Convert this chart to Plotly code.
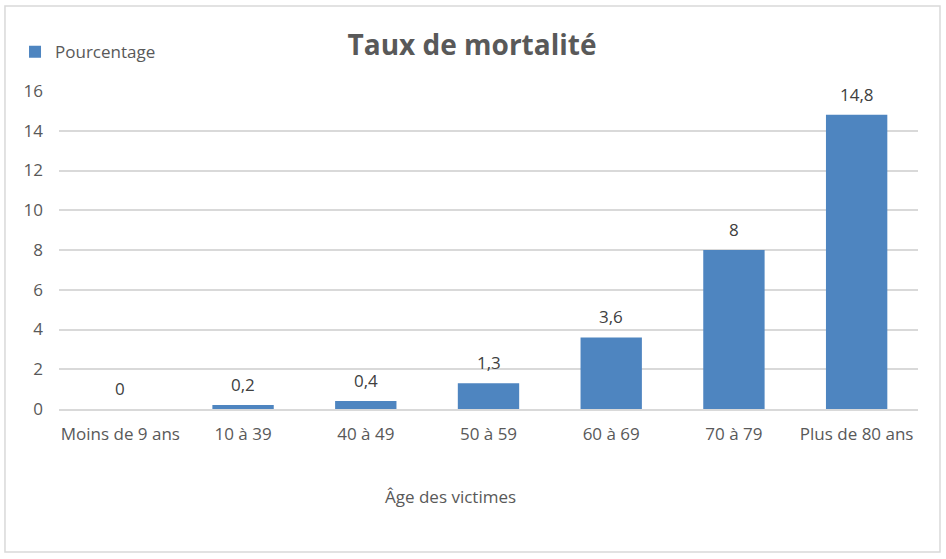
import plotly.graph_objects as go

categories = ["Moins de 9 ans", "10 à 39", "40 à 49", "50 à 59", "60 à 69", "70 à 79", "Plus de 80 ans"]
values = [0, 0.2, 0.4, 1.3, 3.6, 8, 14.8]
labels = ["0", "0,2", "0,4", "1,3", "3,6", "8", "14,8"]
y_ticks = [0, 2, 4, 6, 8, 10, 12, 14, 16]

FONT = "Open Sans"

fig = go.Figure()
fig.add_trace(go.Bar(
    x=categories, y=values, name="Pourcentage",
    marker=dict(color="#4e85c0", line=dict(width=0)),
    width=0.5,
))

for c, v, t in zip(categories, values, labels):
    fig.add_annotation(x=c, y=v, text=t, showarrow=False, yanchor="bottom",
                       yshift=7, font=dict(family=FONT, size=17, color="#404040"))

fig.add_annotation(xref="paper", yref="paper", x=0.456, y=-0.318, text="Âge des victimes",
                   showarrow=False, font=dict(family=FONT, size=17, color="#595959"))

fig.add_shape(type="rect", xref="paper", yref="paper", x0=-0.0629, x1=1.0256, y0=-0.4497, y1=1.267,
              line=dict(color="#d9d9d9", width=1.5), fillcolor="rgba(0,0,0,0)", layer="below")

fig.update_layout(
    width=946, height=559,
    margin=dict(l=59, r=28, t=91, b=150, autoexpand=False),
    paper_bgcolor="white", plot_bgcolor="white",
    title=dict(text="<b>Taux de mortalité</b>", x=472 / 946, xref="container", xanchor="center",
               y=1 - 45 / 559, yref="container", yanchor="middle",
               font=dict(family=FONT, size=28, color="#595959")),
    showlegend=True,
    legend=dict(x=-0.0512, y=1.122, xanchor="left", yanchor="middle", orientation="h",
                font=dict(family=FONT, size=17, color="#595959"), bgcolor="rgba(0,0,0,0)",
                itemwidth=30),
    font=dict(family=FONT, size=17, color="#595959"),
    bargap=0.5,
)
fig.update_yaxes(range=[0, 16], tickvals=y_ticks, showgrid=True, gridcolor="#d9d9d9", gridwidth=1.5,
                 zeroline=False, showline=False, ticklabelstandoff=15, automargin=False,
                 tickfont=dict(family=FONT, size=17, color="#595959"))
fig.update_xaxes(showline=True, linecolor="#d9d9d9", linewidth=1.5, ticklabelstandoff=9, automargin=False,
                 tickfont=dict(family=FONT, size=17, color="#595959"))

fig.write_html("out.html", config={"displayModeBar": False},
               post_script="document.body.style.margin='0';")
